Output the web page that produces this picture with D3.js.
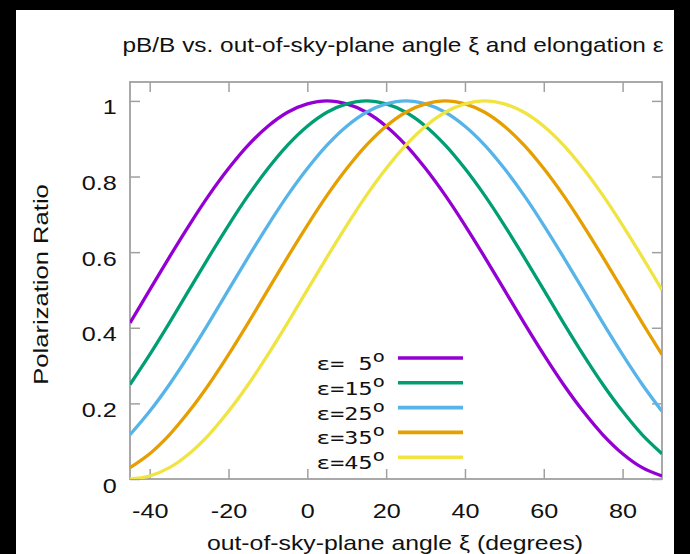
<!DOCTYPE html>
<html>
<head>
<meta charset="utf-8">
<script src="https://cdn.jsdelivr.net/npm/d3@7"></script>
<style>
  html, body { margin: 0; padding: 0; background: #000; }
  svg { display: block; }
</style>
</head>
<body>
<svg id="chart" width="690" height="554"></svg>
<script>
// ---- data ----
const xi = [-45,-40,-35,-30,-25,-20,-15,-10,-5,0,5,10,15,20,25,30,35,40,45,50,55,60,65,70,75,80,85,90];
const eps5  = [0.413,0.500,0.587,0.671,0.750,0.821,0.883,0.933,0.970,0.992,1.000,0.992,0.970,0.933,0.883,0.821,0.750,0.671,0.587,0.500,0.413,0.329,0.250,0.179,0.117,0.067,0.030,0.008];
const eps15 = [0.250,0.329,0.413,0.500,0.587,0.671,0.750,0.821,0.883,0.933,0.970,0.992,1.000,0.992,0.970,0.933,0.883,0.821,0.750,0.671,0.587,0.500,0.413,0.329,0.250,0.179,0.117,0.067];
const eps25 = [0.117,0.179,0.250,0.329,0.413,0.500,0.587,0.671,0.750,0.821,0.883,0.933,0.970,0.992,1.000,0.992,0.970,0.933,0.883,0.821,0.750,0.671,0.587,0.500,0.413,0.329,0.250,0.179];
const eps35 = [0.030,0.067,0.117,0.179,0.250,0.329,0.413,0.500,0.587,0.671,0.750,0.821,0.883,0.933,0.970,0.992,1.000,0.992,0.970,0.933,0.883,0.821,0.750,0.671,0.587,0.500,0.413,0.329];
const eps45 = [0.000,0.008,0.030,0.067,0.117,0.179,0.250,0.329,0.413,0.500,0.587,0.671,0.750,0.821,0.883,0.933,0.970,0.992,1.000,0.992,0.970,0.933,0.883,0.821,0.750,0.671,0.587,0.500];
const seriesNames = ["ε= 5", "ε=15", "ε=25", "ε=35", "ε=45"];
const seriesValues = [eps5, eps15, eps25, eps35, eps45];
const xTicks = [-40,-20,0,20,40,60,80];
const yTicks = [0,0.2,0.4,0.6,0.8,1];
const titleText = "pB/B vs. out-of-sky-plane angle ξ and elongation ε";
const xLabel = "out-of-sky-plane angle ξ (degrees)";
const yLabel = "Polarization Ratio";

// ---- styles ----
const colors = ["#9400d3", "#009e73", "#56b4e9", "#e69f00", "#f0e442"];
const sans = "'Liberation Sans', Arial, Helvetica, sans-serif";
const mono = "'DejaVu Sans Mono', monospace";
const axisColor = "#a0a0a0";
const textColor = "#111";

const svg = d3.select("#chart");
// white page inside black frame
svg.append("rect").attr("x", 16).attr("y", 10).attr("width", 658).attr("height", 544).attr("fill", "#fff");

const m = { left: 130, right: 662, top: 82, bottom: 479 };
const x = d3.scaleLinear().domain([-45, 90]).range([m.left, m.right]);
const y = d3.scaleLinear().domain([0, 1.05]).range([m.bottom, m.top]);

svg.append("clipPath").attr("id", "clip").append("rect")
  .attr("x", m.left).attr("y", m.top).attr("width", m.right - m.left).attr("height", m.bottom - m.top);

const tickLen = 10;
const gx = svg.append("g").attr("transform", `translate(0,${m.bottom})`)
  .call(d3.axisBottom(x).tickValues(xTicks).tickSize(-tickLen).tickPadding(24).tickFormat(d => String(d)));
const gxt = svg.append("g").attr("transform", `translate(0,${m.top})`)
  .call(d3.axisTop(x).tickValues(xTicks).tickSize(-tickLen).tickFormat(""));
const gy = svg.append("g").attr("transform", `translate(${m.left},0)`)
  .call(d3.axisLeft(y).tickValues(yTicks).tickSize(-tickLen).tickPadding(11).tickFormat(d => d === 0 ? "0" : d === 1 ? "1" : d3.format(".1f")(d)));
const gyr = svg.append("g").attr("transform", `translate(${m.right},0)`)
  .call(d3.axisRight(y).tickValues(yTicks).tickSize(-tickLen).tickFormat(""));

[gx, gxt, gy, gyr].forEach(g => {
  g.select(".domain").remove();
  g.selectAll(".tick line").attr("stroke", axisColor).attr("stroke-width", 1.5);
  g.selectAll(".tick text").attr("fill", textColor).style("font-family", sans).style("font-size", "21px")
    .attr("transform", "scale(1.2,1)");
});
gy.selectAll(".tick text").attr("dy", "0.62em");
gx.selectAll(".tick text").attr("dy", "0.71em");

// border
svg.append("rect").attr("x", m.left).attr("y", m.top)
  .attr("width", m.right - m.left).attr("height", m.bottom - m.top)
  .attr("fill", "none").attr("stroke", axisColor).attr("stroke-width", 1.8);

// lines
const line = d3.line().x((d, i) => x(xi[i])).y(d => y(d)).curve(d3.curveCatmullRom.alpha(0.5));
const gl = svg.append("g").attr("clip-path", "url(#clip)");
seriesValues.forEach((vals, k) => {
  gl.append("path").datum(vals).attr("d", line)
    .attr("fill", "none").attr("stroke", colors[k]).attr("stroke-width", 3.3)
    .attr("stroke-linejoin", "round");
});

// legend
const legX = 385, lineX1 = 398, lineX2 = 463, legY0 = 358, legDy = 24.8;
seriesNames.forEach((name, k) => {
  const yy = legY0 + k * legDy;
  const t = svg.append("text").attr("transform", `translate(${legX},${yy + 12}) scale(1.3,1)`)
    .attr("text-anchor", "end").style("font-family", mono).style("font-size", "18px").attr("fill", textColor);
  t.append("tspan").text(name);
  t.append("tspan").attr("dy", -8).style("font-size", "16px").text("o");
  svg.append("line").attr("x1", lineX1).attr("x2", lineX2).attr("y1", yy).attr("y2", yy)
    .attr("stroke", colors[k]).attr("stroke-width", 3.6);
});

// titles
svg.append("text").attr("transform", "translate(393,52) scale(1.22,1)").attr("text-anchor", "middle")
  .style("font-family", sans).style("font-size", "20px").attr("fill", textColor).text(titleText);
svg.append("text").attr("transform", "translate(395,550) scale(1.24,1)").attr("text-anchor", "middle")
  .style("font-family", sans).style("font-size", "20px").attr("fill", textColor).text(xLabel);
svg.append("text").attr("transform", `translate(48,${(m.top + m.bottom) / 2 + 4}) rotate(-90) scale(1.22,1)`)
  .attr("text-anchor", "middle")
  .style("font-family", sans).style("font-size", "21px").attr("fill", textColor).text(yLabel);
</script>
</body>
</html>
